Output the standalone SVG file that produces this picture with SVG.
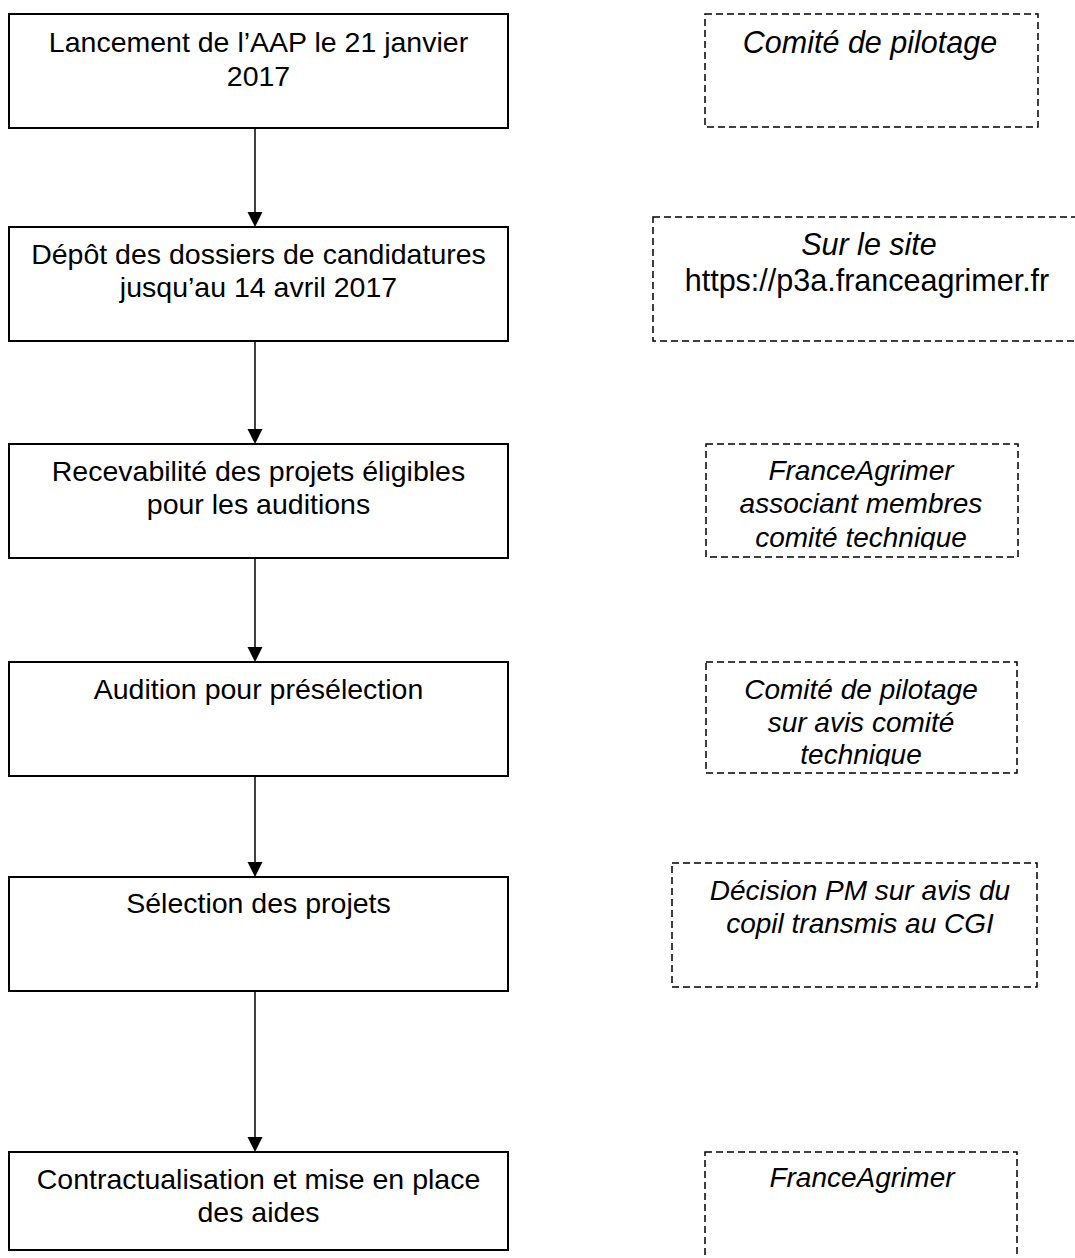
<svg xmlns="http://www.w3.org/2000/svg" width="1075" height="1258" viewBox="0 0 1075 1258">
<style>
.box{fill:#fff;stroke:#000;stroke-width:2}
.dbox{fill:none;stroke:#000;stroke-width:1.5;stroke-dasharray:7 4}
.t{font-family:"Liberation Sans",Arial,sans-serif;font-size:28px;fill:#000;text-anchor:middle}
.l{font-size:28.5px}
.big{font-size:30.5px}
.i{font-style:italic}
.conn{stroke:#000;stroke-width:1.5;fill:none}
</style>
<defs>
<clipPath id="c3"><rect x="700" y="440" width="330" height="110"/></clipPath>
<clipPath id="c4"><rect x="700" y="658" width="330" height="108"/></clipPath>
</defs>
<rect width="1075" height="1258" fill="#fff"/>
<g id="connectors">
<path class="conn" d="M255,128 V212" />
<path d="M247.5,212 L262.5,212 L255,227 Z"/>
<path class="conn" d="M255,341 V429" />
<path d="M247.5,429 L262.5,429 L255,444 Z"/>
<path class="conn" d="M255,558 V647" />
<path d="M247.5,647 L262.5,647 L255,662 Z"/>
<path class="conn" d="M255,776 V862" />
<path d="M247.5,862 L262.5,862 L255,877 Z"/>
<path class="conn" d="M255,991 V1137" />
<path d="M247.5,1137 L262.5,1137 L255,1152 Z"/>
</g>
<g id="n1">
<rect class="box" x="9" y="14" width="499" height="114"/>
<text class="t l" x="258.5" y="52">Lancement de l’AAP le 21 janvier</text>
<text class="t l" x="258.5" y="86">2017</text>
</g>
<g id="n2">
<rect class="box" x="9" y="227" width="499" height="114"/>
<text class="t l" x="258.5" y="264">Dépôt des dossiers de candidatures</text>
<text class="t l" x="258.5" y="297">jusqu’au 14 avril 2017</text>
</g>
<g id="n3">
<rect class="box" x="9" y="444" width="499" height="114"/>
<text class="t l" x="258.5" y="481">Recevabilité des projets éligibles</text>
<text class="t l" x="258.5" y="514">pour les auditions</text>
</g>
<g id="n4">
<rect class="box" x="9" y="662" width="499" height="114"/>
<text class="t l" x="258.5" y="699">Audition pour présélection</text>
</g>
<g id="n5">
<rect class="box" x="9" y="877" width="499" height="114"/>
<text class="t l" x="258.5" y="913">Sélection des projets</text>
</g>
<g id="n6">
<rect class="box" x="9" y="1152" width="499" height="98"/>
<text class="t l" x="258.5" y="1189">Contractualisation et mise en place</text>
<text class="t l" x="258.5" y="1222">des aides</text>
</g>
<g id="r1">
<rect class="dbox" x="705" y="14" width="333" height="113"/>
<text class="t big i" x="870" y="53">Comité de pilotage</text>
</g>
<g id="r2">
<rect class="dbox" x="653" y="217" width="440" height="124"/>
<text class="t big i" x="869" y="255">Sur le site</text>
<text class="t big" x="867" y="291">https://p3a.franceagrimer.fr</text>
</g>
<g id="r3">
<rect class="dbox" x="706" y="444" width="312" height="113"/>
<g clip-path="url(#c3)">
<text class="t i" x="861" y="480">FranceAgrimer</text>
<text class="t i" x="861" y="513">associant membres</text>
<text class="t i" x="861" y="547">comité technique</text>
</g>
</g>
<g id="r4">
<rect class="dbox" x="706" y="662" width="311" height="111"/>
<g clip-path="url(#c4)">
<text class="t i" x="861" y="699">Comité de pilotage</text>
<text class="t i" x="861" y="732">sur avis comité</text>
<text class="t i" x="861" y="764">technique</text>
</g>
</g>
<g id="r5">
<rect class="dbox" x="672" y="863" width="365" height="124"/>
<text class="t i" x="860" y="900">Décision PM sur avis du</text>
<text class="t i" x="860" y="933">copil transmis au CGI</text>
</g>
<g id="r6">
<rect class="dbox" x="705" y="1152" width="312" height="130"/>
<text class="t i" x="862" y="1187">FranceAgrimer</text>
</g>
</svg>
